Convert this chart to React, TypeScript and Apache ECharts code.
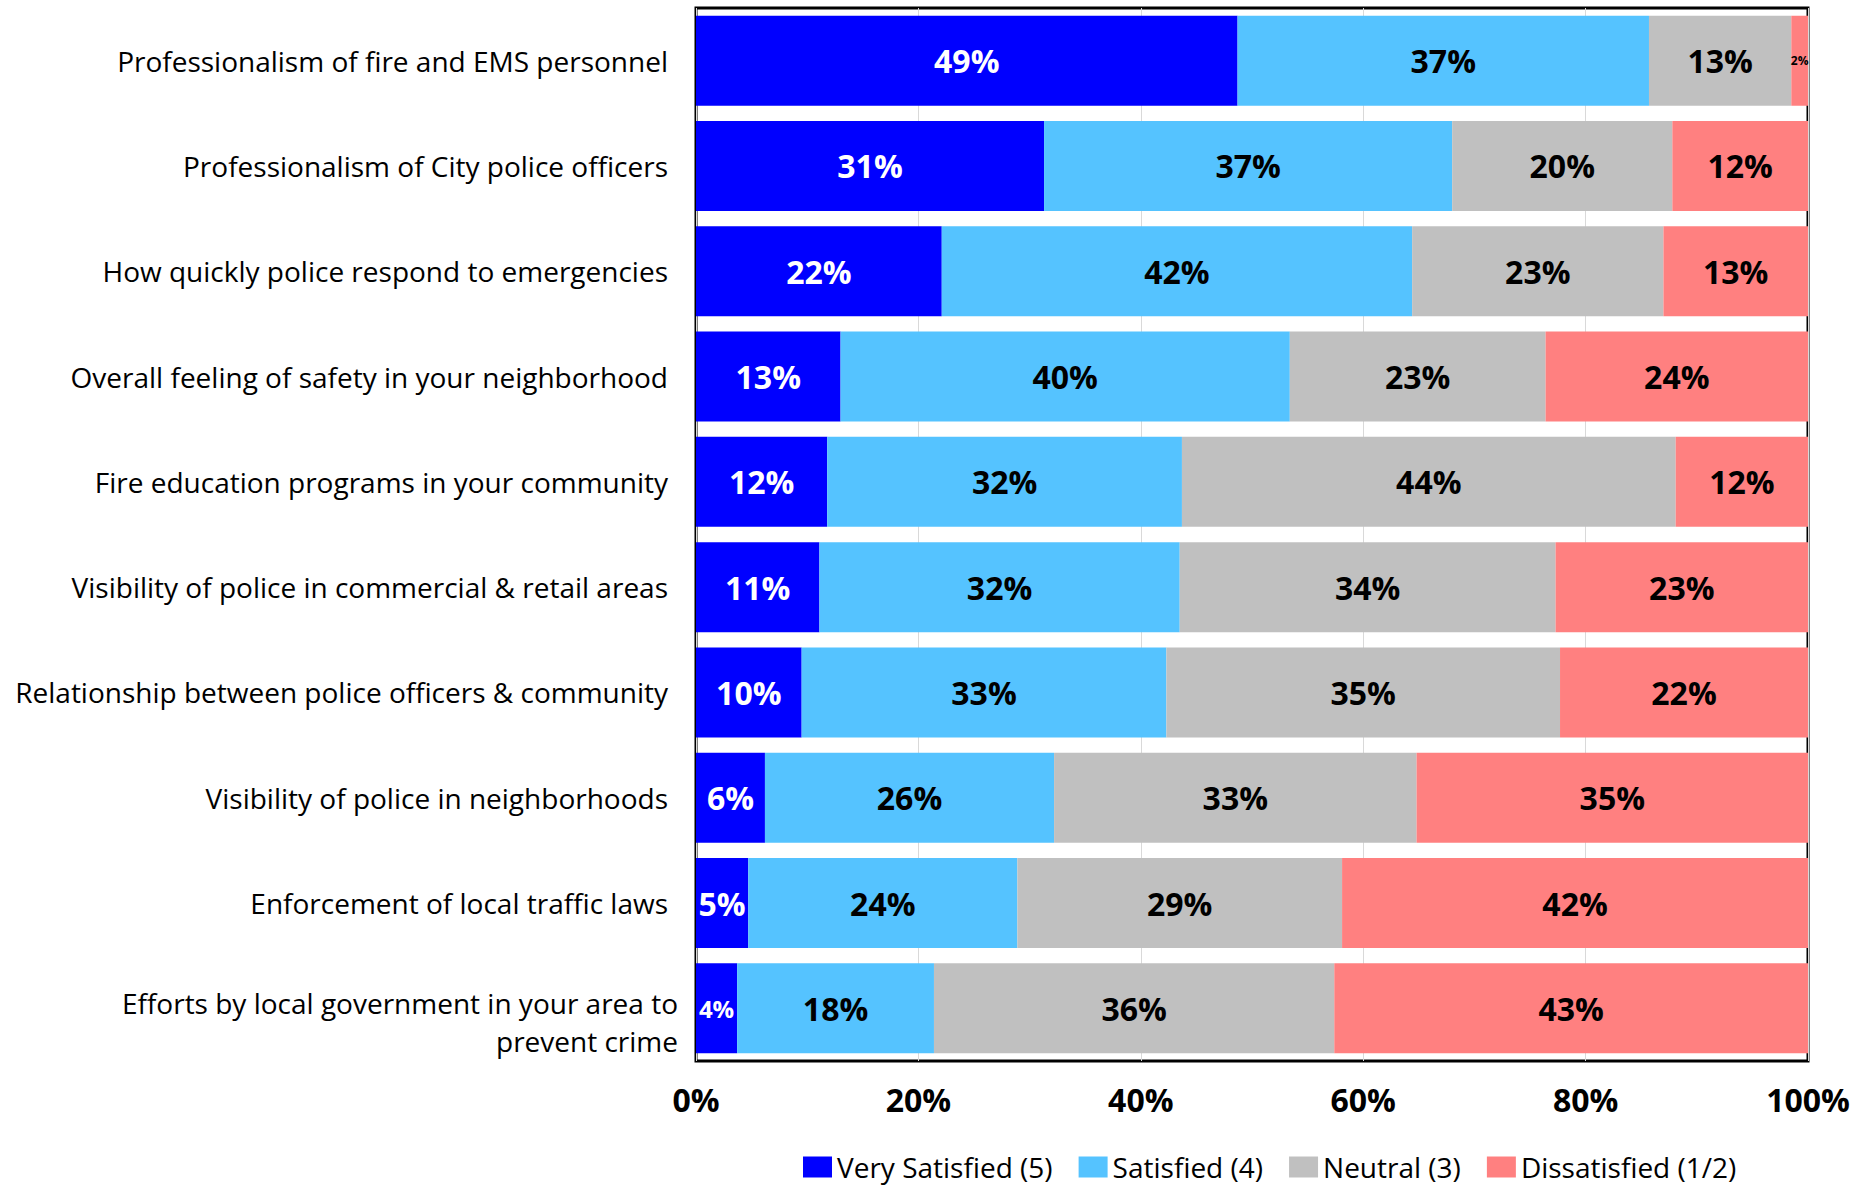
import React, { useEffect, useRef } from "react";
import * as echarts from "echarts";

const categories = [
  "Professionalism of fire and EMS personnel",
  "Professionalism of City police officers",
  "How quickly police respond to emergencies",
  "Overall feeling of safety in your neighborhood",
  "Fire education programs in your community",
  "Visibility of police in commercial & retail areas",
  "Relationship between police officers & community",
  "Visibility of police in neighborhoods",
  "Enforcement of local traffic laws",
  "Efforts by local government in your area to\nprevent crime",
];

const verySatisfied = [48.7, 31.3, 22.1, 13.0, 11.8, 11.1, 9.5, 6.2, 4.7, 3.7];
const satisfied = [37.0, 36.7, 42.3, 40.4, 31.9, 32.4, 32.8, 26.0, 24.2, 17.7];
const neutral = [12.8, 19.8, 22.6, 23.0, 44.4, 33.8, 35.4, 32.6, 29.2, 36.0];
const dissatisfied = [1.5, 12.2, 13.0, 23.6, 11.9, 22.7, 22.3, 35.2, 41.9, 42.6];

const seriesNames = ["Very Satisfied (5)", "Satisfied (4)", "Neutral (3)", "Dissatisfied (1/2)"];
const seriesColors = ["#0000FF", "#55C3FF", "#C0C0C0", "#FF8080"];
const tickValues = [0, 20, 40, 60, 80, 100];

export default function App() {
  const ref = useRef<HTMLDivElement>(null);
  useEffect(() => {
    if (!ref.current) return;
    const chart = echarts.init(ref.current, null, { renderer: "svg" });
    const all = [verySatisfied, satisfied, neutral, dissatisfied];
    const series = all.map((vals, si) => ({
      name: seriesNames[si],
      type: "bar",
      stack: "total",
      barCategoryGap: "14.5%",
      itemStyle: { color: seriesColors[si] },
      label: {
        show: true,
        position: "inside",
        color: si === 0 ? "#FFFFFF" : "#000000",
        fontFamily: "Open Sans",
        fontWeight: "bold",
        fontSize: 32,
        formatter: (p: any) => Math.round(p.value) + "%",
      },
      data: vals.map((v) => {
        if (v < 2) return { value: v, label: { fontSize: 12 } };
        if (v < 4) return { value: v, label: { fontSize: 24 } };
        return v;
      }),
    }));
    const lastIdx = categories.length - 1;
    const catData = categories.map((c, i) =>
      i === lastIdx
        ? { value: c, textStyle: { padding: [0, 0, 0, 0] } }
        : { value: c, textStyle: { padding: [0, 10, 0, 0] } }
    );
    const baseText = { fontFamily: "Open Sans", fontSize: 28, color: "#000000" };
    chart.setOption({
      animation: false,
      backgroundColor: "#FFFFFF",
      grid: {
        left: 696,
        right: 63,
        top: 8,
        bottom: 127,
        show: true,
        borderColor: "#000000",
        borderWidth: 3,
        backgroundColor: "transparent",
        containLabel: false,
      },
      legend: {
        left: 803,
        top: 1152,
        padding: 0,
        itemWidth: 29,
        itemHeight: 21,
        itemGap: 26,
        icon: "rect",
        textStyle: {
          fontFamily: "Liberation Sans Narrow, Open Sans",
          fontSize: 28,
          lineHeight: 30,
          color: "#000000",
        },
        data: seriesNames,
      },
      xAxis: {
        type: "value",
        min: tickValues[0],
        max: tickValues[tickValues.length - 1],
        interval: 20,
        axisLine: { show: false },
        axisTick: { show: false },
        splitLine: { show: true, lineStyle: { color: "#D9D9D9", width: 1 } },
        axisLabel: {
          formatter: "{value}%",
          fontFamily: "Open Sans",
          fontWeight: "bold",
          fontSize: 32,
          color: "#000000",
          margin: 22,
        },
      },
      yAxis: {
        type: "category",
        inverse: true,
        data: catData,
        axisLine: { show: false },
        axisTick: { show: false },
        axisLabel: {
          ...baseText,
          margin: 18,
          lineHeight: 38,
          align: "right",
          formatter: (val: string) => {
            if (val.indexOf("\n") < 0) return val;
            const parts = val.split("\n");
            return "{sp| }{f|" + parts[0] + "}\n{s|" + parts[1] + "}";
          },
          rich: {
            sp: { ...baseText, lineHeight: 66, width: 1 },
            f: { ...baseText, lineHeight: 38, verticalAlign: "bottom" },
            s: { ...baseText, lineHeight: 48 },
          },
        },
      },
      series,
    });
    return () => chart.dispose();
  }, []);
  return (
    <div
      ref={ref}
      style={{ position: "fixed", left: 0, top: 0, width: 1871, height: 1188 }}
    />
  );
}
